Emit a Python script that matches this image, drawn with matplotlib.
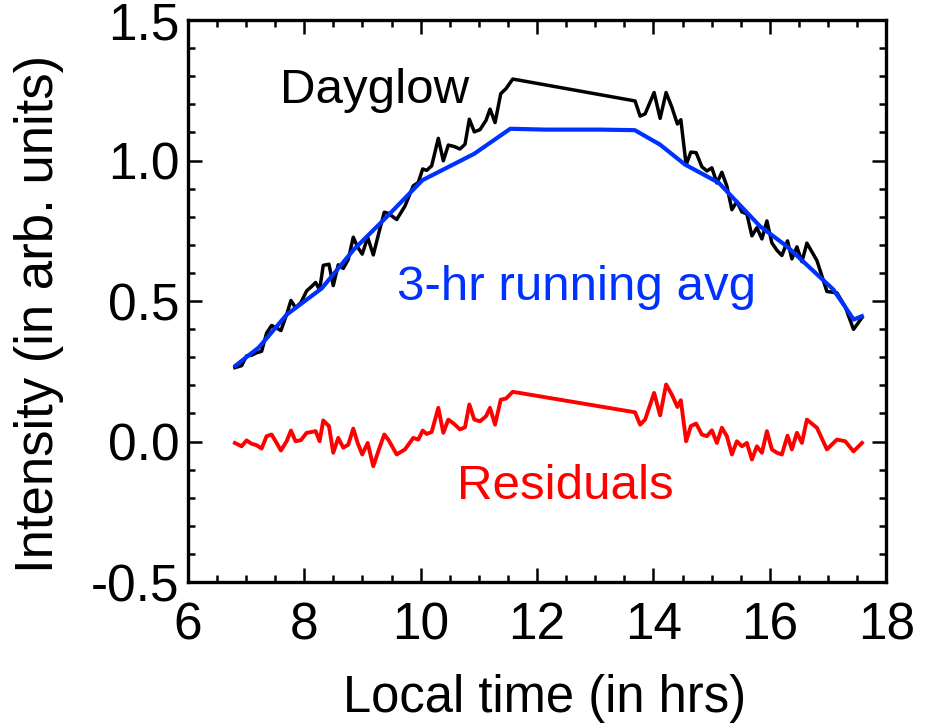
import matplotlib
matplotlib.use("Agg")
import matplotlib.pyplot as plt
from matplotlib.ticker import MultipleLocator

plt.rcParams['font.family'] = ['Liberation Sans', 'DejaVu Sans']

# Local time (hrs) for the dayglow / residual samples
time_hr = [6.808, 6.923, 7.009, 7.095, 7.181, 7.267, 7.353, 7.439, 7.525, 7.599,
           7.697, 7.771, 7.851, 7.943, 8.041, 8.127, 8.195, 8.264, 8.326, 8.424,
           8.498, 8.584, 8.670, 8.756, 8.842, 8.917, 8.996, 9.089, 9.186, 9.283,
           9.375, 9.443, 9.588, 9.730, 9.873, 9.959, 10.035, 10.103, 10.189, 10.303,
           10.389, 10.475, 10.573, 10.676, 10.762, 10.836, 10.922, 11.020, 11.123, 11.192,
           11.278, 11.376, 11.467, 11.582,
           13.684, 13.770, 13.856, 14.011, 14.114, 14.217, 14.315, 14.411, 14.470, 14.561,
           14.642, 14.733, 14.831, 14.917, 15.003, 15.089, 15.175, 15.261, 15.347, 15.433,
           15.519, 15.605, 15.691, 15.777, 15.863, 15.949, 16.034, 16.120, 16.206, 16.303,
           16.378, 16.464, 16.550, 16.636, 16.808, 16.980, 17.152, 17.294, 17.437, 17.582]

dayglow = [0.263, 0.270, 0.305, 0.307, 0.316, 0.321, 0.386, 0.413, 0.404, 0.395,
           0.452, 0.502, 0.476, 0.495, 0.536, 0.552, 0.566, 0.540, 0.627, 0.631,
           0.555, 0.629, 0.616, 0.648, 0.727, 0.692, 0.667, 0.727, 0.664, 0.744,
           0.816, 0.812, 0.790, 0.838, 0.910, 0.922, 0.970, 0.965, 0.981, 1.079,
           0.999, 1.055, 1.050, 1.041, 1.058, 1.147, 1.102, 1.110, 1.143, 1.183,
           1.135, 1.238, 1.256, 1.290,
           1.212, 1.158, 1.166, 1.242, 1.150, 1.242, 1.190, 1.130, 1.145, 0.985,
           1.030, 1.028, 0.978, 0.963, 0.974, 0.920, 0.958, 0.909, 0.825, 0.854,
           0.817, 0.810, 0.732, 0.761, 0.721, 0.785, 0.707, 0.681, 0.662, 0.714,
           0.650, 0.693, 0.640, 0.706, 0.644, 0.534, 0.529, 0.480, 0.399, 0.441]

residuals = [-0.005, -0.017, 0.004, -0.008, -0.013, -0.025, 0.019, 0.025, -0.005, -0.032,
             0.001, 0.039, 0.001, 0.005, 0.031, 0.034, 0.037, 0.001, 0.075, 0.055,
             -0.040, 0.013, -0.022, -0.011, 0.046, -0.005, -0.046, -0.005, -0.088, -0.028,
             0.025, 0.007, -0.046, -0.028, 0.013, 0.007, 0.039, 0.027, 0.034, 0.120,
             0.031, 0.078, 0.063, 0.043, 0.051, 0.132, 0.078, 0.072, 0.090, 0.120,
             0.060, 0.149, 0.153, 0.177,
             0.104, 0.060, 0.078, 0.173, 0.093, 0.203, 0.167, 0.123, 0.147, 0.001,
             0.055, 0.064, 0.025, 0.019, 0.040, -0.005, 0.049, 0.019, -0.046, 0.001,
             -0.017, -0.005, -0.064, -0.017, -0.040, 0.037, -0.028, -0.040, -0.046, 0.021,
             -0.028, 0.031, -0.005, 0.078, 0.049, -0.028, 0.007, 0.001, -0.035, -0.005]

# 3-hr running average
avg_time = [6.82, 7.22, 7.70, 8.30, 8.85, 9.40, 10.03, 10.92, 11.54, 12.14,
            13.08, 13.68, 14.11, 14.54, 15.12, 15.83, 16.29, 17.09, 17.44, 17.58]
avg_val = [0.270, 0.335, 0.452, 0.545, 0.683, 0.796, 0.930, 1.024, 1.113, 1.110,
           1.110, 1.108, 1.057, 0.986, 0.921, 0.766, 0.695, 0.541, 0.434, 0.446]

x_ticks = [6, 8, 10, 12, 14, 16, 18]
y_ticks = [-0.5, 0.0, 0.5, 1.0, 1.5]

fig = plt.figure(figsize=(9.3, 7.28), dpi=100)
ax = fig.add_axes([0.202, 0.2005, 0.751, 0.772])

ax.plot(time_hr, dayglow, color='black', lw=2.5, solid_joinstyle='round')
ax.plot(avg_time, avg_val, color='#0032ff', lw=3.0, solid_joinstyle='round')
ax.plot(time_hr, residuals, color='#ff0000', lw=2.8, solid_joinstyle='round')

ax.text(7.58, 1.206, 'Dayglow', color='black', fontsize=35.5, ha='left', va='baseline')
ax.text(9.59, 0.505, '3-hr running avg', color='#0032ff', fontsize=35.5, ha='left', va='baseline')
ax.text(10.62, -0.206, 'Residuals', color='#ff0000', fontsize=35.5, ha='left', va='baseline')

ax.set_xlim(6, 18)
ax.set_ylim(-0.5, 1.5)
ax.set_xticks(x_ticks)
ax.set_xticklabels([str(v) for v in x_ticks])
ax.set_yticks(y_ticks)
ax.set_yticklabels(['%.1f' % v for v in y_ticks])
ax.xaxis.set_minor_locator(MultipleLocator(0.5))
ax.yaxis.set_minor_locator(MultipleLocator(0.1))
ax.tick_params(which='both', direction='in', top=True, right=True, width=1.8, colors='black')
ax.tick_params(which='major', length=10, labelsize=37)
ax.tick_params(axis='y', which='major', pad=6)
ax.tick_params(axis='x', which='major', pad=14)
ax.tick_params(which='minor', length=5)
for s in ax.spines.values():
    s.set_linewidth(2.4)

fig.text(0.586, 0.022, 'Local time (in hrs)', fontsize=36.5, ha='center', va='baseline')
fig.text(0.042, 0.569, 'Intensity (in arb. units)', fontsize=38, ha='center', va='center', rotation=90)

fig.savefig('out.png', dpi=100)
